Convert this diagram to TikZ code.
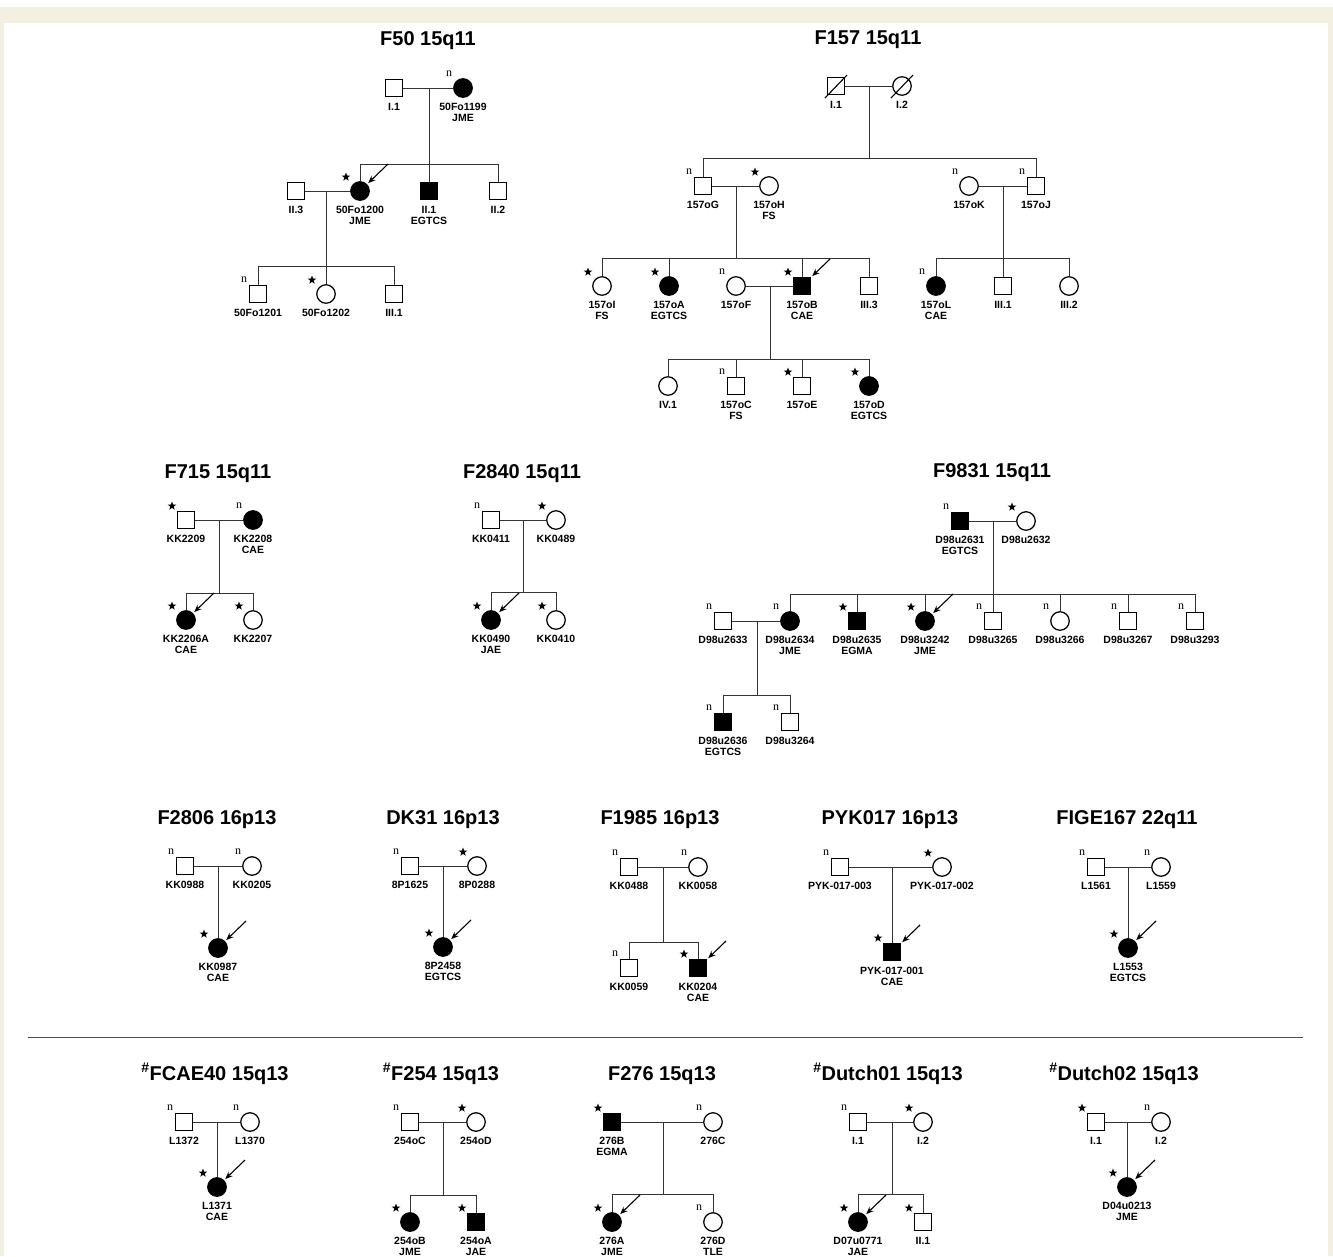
\documentclass[tikz,border=0pt]{standalone}
\usepackage{fontspec}
\setmainfont{Liberation Sans}
\newfontfamily\pdserif{Liberation Serif}
\usetikzlibrary{shapes.geometric,arrows.meta,calc}
\definecolor{framebeige}{HTML}{F3EFE1}
\newcommand\pdLbl{\fontsize{10.5}{11}\selectfont\bfseries}
\newcommand\pdTtl{\fontsize{20}{24}\selectfont\bfseries}
\newcommand\pdNf{\fontsize{12}{13}\selectfont\pdserif}
\newcommand\pdPerson[5]{\node[#2] (#1) at (#3,#4) {}; \node[idtext] (#1-t) at ($(#1)+(0,15)$) {#5};}
\newcommand\pdN[1]{\node[nm] (#1-n) at ($(#1)+(-14,-14)$) {n};}
\newcommand\pdS[1]{\node[sm] (#1-s) at ($(#1)+(-14,-14)$) {};}
\newcommand\pdArrow[1]{\coordinate (#1-ar) at ($(#1)+(28,-27)$); \draw[parrow] (#1-ar) -- (#1);}
\newcommand\pdDec[1]{\draw[line width=1.1pt] ($(#1)+(-11,12)$) -- ($(#1)+(11,-11)$);}
\tikzset{
  conn/.style={line width=0.9pt, draw=black!80},
  sym/.style={draw, line width=1.25pt, inner sep=0pt, fill=white},
  male/.style={sym, rectangle, minimum size=17pt},
  female/.style={sym, circle, minimum size=18.5pt},
  aff/.style={fill=black},
  idtext/.style={font=\pdLbl, align=center, anchor=north, inner sep=0pt},
  ttl/.style={font=\pdTtl, inner sep=0pt, anchor=base},
  nm/.style={font=\pdNf, inner sep=0pt},
  sm/.style={star, star points=5, star point ratio=2.4, fill=black, inner sep=0pt, minimum size=9pt},
  parrow/.style={line width=1.1pt, -{Stealth[length=7.5pt,width=6pt]}, shorten >=1.5pt},
}
\begin{document}
\begin{tikzpicture}[x=1pt,y=-1pt]
\useasboundingbox (0,0) rectangle (1333,1256);
\fill[white] (0,0) rectangle (1333,1256);
\fill[framebeige] (0,7) rectangle (1333,23);
\fill[framebeige] (0,7) rectangle (4,1256);
\fill[framebeige] (1328,7) rectangle (1333,1256);

% ================= F50
\node[ttl] (t50) at (428,45) {F50 15q11};
\pdPerson{f50a}{male}{394}{88}{I.1}
\pdPerson{f50b}{female,aff}{463}{88}{50Fo1199\\JME} \pdN{f50b}
\coordinate (f50m1) at (429,88); \coordinate (f50s1) at (429,164);
\pdPerson{f50c}{male}{296}{191}{II.3}
\pdPerson{f50d}{female,aff}{360}{191}{50Fo1200\\JME} \pdS{f50d}
\pdPerson{f50e}{male,aff}{429}{191}{II.1\\EGTCS}
\pdPerson{f50f}{male}{498}{191}{II.2}
\coordinate (f50m2) at (326,191); \coordinate (f50s2) at (326,266);
\pdPerson{f50g}{male}{258}{294}{50Fo1201} \pdN{f50g}
\pdPerson{f50h}{female}{326}{294}{50Fo1202} \pdS{f50h}
\pdPerson{f50i}{male}{394}{294}{III.1}
\draw[conn] (f50a) -- (f50b);
\draw[conn] (f50m1) -- (f50s1);
\foreach \c in {f50d,f50e,f50f} \draw[conn] (f50s1) -| (\c);
\draw[conn] (f50c) -- (f50d);
\draw[conn] (f50m2) -- (f50s2);
\foreach \c in {f50g,f50h,f50i} \draw[conn] (f50s2) -| (\c);
\pdArrow{f50d}

% ================= F157
\node[ttl] (t157) at (868,44) {F157 15q11};
\pdPerson{f157a}{male}{836}{86}{I.1} \pdDec{f157a}
\pdPerson{f157b}{female}{902}{86}{I.2} \pdDec{f157b}
\coordinate (f157m1) at (869,86); \coordinate (f157s1) at (869,158);
\pdPerson{f157c}{male}{703}{186}{157oG} \pdN{f157c}
\pdPerson{f157d}{female}{769}{186}{157oH\\FS} \pdS{f157d}
\pdPerson{f157e}{female}{969}{186}{157oK} \pdN{f157e}
\pdPerson{f157f}{male}{1036}{186}{157oJ} \pdN{f157f}
\coordinate (f157m2) at (736,186); \coordinate (f157s2) at (736,258);
\coordinate (f157m3) at (1003,186); \coordinate (f157s3) at (1003,258);
\pdPerson{f157g}{female}{602}{286}{157oI\\FS} \pdS{f157g}
\pdPerson{f157h}{female,aff}{669}{286}{157oA\\EGTCS} \pdS{f157h}
\pdPerson{f157i}{female}{736}{286}{157oF} \pdN{f157i}
\pdPerson{f157j}{male,aff}{802}{286}{157oB\\CAE} \pdS{f157j}
\pdPerson{f157k}{male}{869}{286}{III.3}
\pdPerson{f157l}{female,aff}{936}{286}{157oL\\CAE} \pdN{f157l}
\pdPerson{f157p}{male}{1003}{286}{III.1}
\pdPerson{f157q}{female}{1069}{286}{III.2}
\coordinate (f157m4) at (770,286); \coordinate (f157s4) at (770,359);
\pdPerson{f157r}{female}{668}{386}{IV.1}
\pdPerson{f157t}{male}{736}{386}{157oC\\FS} \pdN{f157t}
\pdPerson{f157u}{male}{802}{386}{157oE} \pdS{f157u}
\pdPerson{f157v}{female,aff}{869}{386}{157oD\\EGTCS} \pdS{f157v}
\draw[conn] (f157a) -- (f157b);
\draw[conn] (f157m1) -- (f157s1);
\foreach \c in {f157c,f157f} \draw[conn] (f157s1) -| (\c);
\draw[conn] (f157c) -- (f157d);
\draw[conn] (f157e) -- (f157f);
\draw[conn] (f157m2) -- (f157s2);
\draw[conn] (f157m3) -- (f157s3);
\foreach \c in {f157g,f157h,f157j,f157k} \draw[conn] (f157s2) -| (\c);
\foreach \c in {f157l,f157p,f157q} \draw[conn] (f157s3) -| (\c);
\draw[conn] (f157i) -- (f157j);
\draw[conn] (f157m4) -- (f157s4);
\foreach \c in {f157r,f157t,f157u,f157v} \draw[conn] (f157s4) -| (\c);
\pdArrow{f157j}

% ================= F715
\node[ttl] (t715) at (218,478) {F715 15q11};
\pdPerson{f715a}{male}{186}{520}{KK2209} \pdS{f715a}
\pdPerson{f715b}{female,aff}{253}{520}{KK2208\\CAE} \pdN{f715b}
\coordinate (f715m) at (219,520); \coordinate (f715s) at (219,593);
\pdPerson{f715c}{female,aff}{186}{620}{KK2206A\\CAE} \pdS{f715c}
\pdPerson{f715d}{female}{253}{620}{KK2207} \pdS{f715d}
\draw[conn] (f715a) -- (f715b);
\draw[conn] (f715m) -- (f715s);
\foreach \c in {f715c,f715d} \draw[conn] (f715s) -| (\c);
\pdArrow{f715c}

% ================= F2840
\node[ttl] (t2840) at (522,478) {F2840 15q11};
\pdPerson{f2840a}{male}{491}{520}{KK0411} \pdN{f2840a}
\pdPerson{f2840b}{female}{556}{520}{KK0489} \pdS{f2840b}
\coordinate (f2840m) at (523,520); \coordinate (f2840s) at (523,592);
\pdPerson{f2840c}{female,aff}{491}{620}{KK0490\\JAE} \pdS{f2840c}
\pdPerson{f2840d}{female}{556}{620}{KK0410} \pdS{f2840d}
\draw[conn] (f2840a) -- (f2840b);
\draw[conn] (f2840m) -- (f2840s);
\foreach \c in {f2840c,f2840d} \draw[conn] (f2840s) -| (\c);
\pdArrow{f2840c}

% ================= F9831
\node[ttl] (t9831) at (992,477) {F9831 15q11};
\pdPerson{f98a}{male,aff}{960}{521}{D98u2631\\EGTCS} \pdN{f98a}
\pdPerson{f98b}{female}{1026}{521}{D98u2632} \pdS{f98b}
\coordinate (f98m1) at (993,521); \coordinate (f98s1) at (993,594);
\pdPerson{f98c}{male}{723}{621}{D98u2633} \pdN{f98c}
\pdPerson{f98d}{female,aff}{790}{621}{D98u2634\\JME} \pdN{f98d}
\pdPerson{f98e}{male,aff}{857}{621}{D98u2635\\EGMA} \pdS{f98e}
\pdPerson{f98f}{female,aff}{925}{621}{D98u3242\\JME} \pdS{f98f}
\pdPerson{f98g}{male}{993}{621}{D98u3265} \pdN{f98g}
\pdPerson{f98h}{female}{1060}{621}{D98u3266} \pdN{f98h}
\pdPerson{f98i}{male}{1128}{621}{D98u3267} \pdN{f98i}
\pdPerson{f98j}{male}{1195}{621}{D98u3293} \pdN{f98j}
\coordinate (f98m2) at (757,621); \coordinate (f98s2) at (757,695);
\pdPerson{f98k}{male,aff}{723}{722}{D98u2636\\EGTCS} \pdN{f98k}
\pdPerson{f98l}{male}{790}{722}{D98u3264} \pdN{f98l}
\draw[conn] (f98a) -- (f98b);
\draw[conn] (f98m1) -- (f98s1);
\foreach \c in {f98d,f98e,f98f,f98g,f98h,f98i,f98j} \draw[conn] (f98s1) -| (\c);
\draw[conn] (f98c) -- (f98d);
\draw[conn] (f98m2) -- (f98s2);
\foreach \c in {f98k,f98l} \draw[conn] (f98s2) -| (\c);
\pdArrow{f98f}

% ================= F2806
\node[ttl] (t2806) at (217,824) {F2806 16p13};
\pdPerson{f2806a}{male}{185}{866}{KK0988} \pdN{f2806a}
\pdPerson{f2806b}{female}{252}{866}{KK0205} \pdN{f2806b}
\coordinate (f2806m) at (218,866);
\pdPerson{f2806c}{female,aff}{218}{948}{KK0987\\CAE} \pdS{f2806c}
\draw[conn] (f2806a) -- (f2806b);
\draw[conn] (f2806m) -- (f2806c);
\pdArrow{f2806c}

% ================= DK31
\node[ttl] (tdk31) at (443,824) {DK31 16p13};
\pdPerson{dk31a}{male}{410}{866}{8P1625} \pdN{dk31a}
\pdPerson{dk31b}{female}{477}{866}{8P0288} \pdS{dk31b}
\coordinate (dk31m) at (443,866);
\pdPerson{dk31c}{female,aff}{443}{947}{8P2458\\EGTCS} \pdS{dk31c}
\draw[conn] (dk31a) -- (dk31b);
\draw[conn] (dk31m) -- (dk31c);
\pdArrow{dk31c}

% ================= F1985
\node[ttl] (t1985) at (660,824) {F1985 16p13};
\pdPerson{f1985a}{male}{629}{867}{KK0488} \pdN{f1985a}
\pdPerson{f1985b}{female}{698}{867}{KK0058} \pdN{f1985b}
\coordinate (f1985m) at (663,867); \coordinate (f1985s) at (663,942);
\pdPerson{f1985c}{male}{629}{968}{KK0059} \pdN{f1985c}
\pdPerson{f1985d}{male,aff}{698}{968}{KK0204\\CAE} \pdS{f1985d}
\draw[conn] (f1985a) -- (f1985b);
\draw[conn] (f1985m) -- (f1985s);
\foreach \c in {f1985c,f1985d} \draw[conn] (f1985s) -| (\c);
\pdArrow{f1985d}

% ================= PYK017
\node[ttl] (tpyk) at (890,824) {PYK017 16p13};
\pdPerson{pyka}{male}{840}{867}{PYK-017-003} \pdN{pyka}
\pdPerson{pykb}{female}{942}{867}{PYK-017-002} \pdS{pykb}
\coordinate (pykm) at (892,867);
\pdPerson{pykc}{male,aff}{892}{952}{PYK-017-001\\CAE} \pdS{pykc}
\draw[conn] (pyka) -- (pykb);
\draw[conn] (pykm) -- (pykc);
\pdArrow{pykc}

% ================= FIGE167
\node[ttl] (tfige) at (1127,824) {FIGE167 22q11};
\pdPerson{figea}{male}{1096}{867}{L1561} \pdN{figea}
\pdPerson{figeb}{female}{1161}{867}{L1559} \pdN{figeb}
\coordinate (figem) at (1128,867);
\pdPerson{figec}{female,aff}{1128}{948}{L1553\\EGTCS} \pdS{figec}
\draw[conn] (figea) -- (figeb);
\draw[conn] (figem) -- (figec);
\pdArrow{figec}

% ================= separator
\draw[line width=1pt, black!70] (28,1037) -- (1303,1037);

% ================= FCAE40
\node[ttl] (tfcae) at (215,1080) {\textsuperscript{\#}FCAE40 15q13};
\pdPerson{fcaea}{male}{184}{1122}{L1372} \pdN{fcaea}
\pdPerson{fcaeb}{female}{250}{1122}{L1370} \pdN{fcaeb}
\coordinate (fcaem) at (217,1122);
\pdPerson{fcaec}{female,aff}{217}{1187}{L1371\\CAE} \pdS{fcaec}
\draw[conn] (fcaea) -- (fcaeb);
\draw[conn] (fcaem) -- (fcaec);
\pdArrow{fcaec}

% ================= F254
\node[ttl] (t254) at (441,1080) {\textsuperscript{\#}F254 15q13};
\pdPerson{f254a}{male}{410}{1122}{254oC} \pdN{f254a}
\pdPerson{f254b}{female}{476}{1122}{254oD} \pdS{f254b}
\coordinate (f254m) at (443,1122); \coordinate (f254s) at (443,1195);
\pdPerson{f254c}{female,aff}{410}{1222}{254oB\\JME} \pdS{f254c}
\pdPerson{f254d}{male,aff}{476}{1222}{254oA\\JAE} \pdS{f254d}
\draw[conn] (f254a) -- (f254b);
\draw[conn] (f254m) -- (f254s);
\foreach \c in {f254c,f254d} \draw[conn] (f254s) -| (\c);

% ================= F276
\node[ttl] (t276) at (662,1080) {F276 15q13};
\pdPerson{f276a}{male,aff}{612}{1122}{276B\\EGMA} \pdS{f276a}
\pdPerson{f276b}{female}{713}{1122}{276C} \pdN{f276b}
\coordinate (f276m) at (663,1122); \coordinate (f276s) at (663,1194);
\pdPerson{f276c}{female,aff}{612}{1222}{276A\\JME} \pdS{f276c}
\pdPerson{f276d}{female}{713}{1222}{276D\\TLE} \pdN{f276d}
\draw[conn] (f276a) -- (f276b);
\draw[conn] (f276m) -- (f276s);
\foreach \c in {f276c,f276d} \draw[conn] (f276s) -| (\c);
\pdArrow{f276c}

% ================= Dutch01
\node[ttl] (tdu1) at (888,1080) {\textsuperscript{\#}Dutch01 15q13};
\pdPerson{du1a}{male}{858}{1122}{I.1} \pdN{du1a}
\pdPerson{du1b}{female}{923}{1122}{I.2} \pdS{du1b}
\coordinate (du1m) at (892,1122); \coordinate (du1s) at (892,1194);
\pdPerson{du1c}{female,aff}{858}{1222}{D07u0771\\JAE} \pdS{du1c}
\pdPerson{du1d}{male}{923}{1222}{II.1} \pdS{du1d}
\draw[conn] (du1a) -- (du1b);
\draw[conn] (du1m) -- (du1s);
\foreach \c in {du1c,du1d} \draw[conn] (du1s) -| (\c);
\pdArrow{du1c}

% ================= Dutch02
\node[ttl] (tdu2) at (1124,1080) {\textsuperscript{\#}Dutch02 15q13};
\pdPerson{du2a}{male}{1096}{1122}{I.1} \pdS{du2a}
\pdPerson{du2b}{female}{1161}{1122}{I.2} \pdN{du2b}
\coordinate (du2m) at (1127,1122);
\pdPerson{du2c}{female,aff}{1127}{1187}{D04u0213\\JME} \pdS{du2c}
\draw[conn] (du2a) -- (du2b);
\draw[conn] (du2m) -- (du2c);
\pdArrow{du2c}
\end{tikzpicture}
\end{document}
